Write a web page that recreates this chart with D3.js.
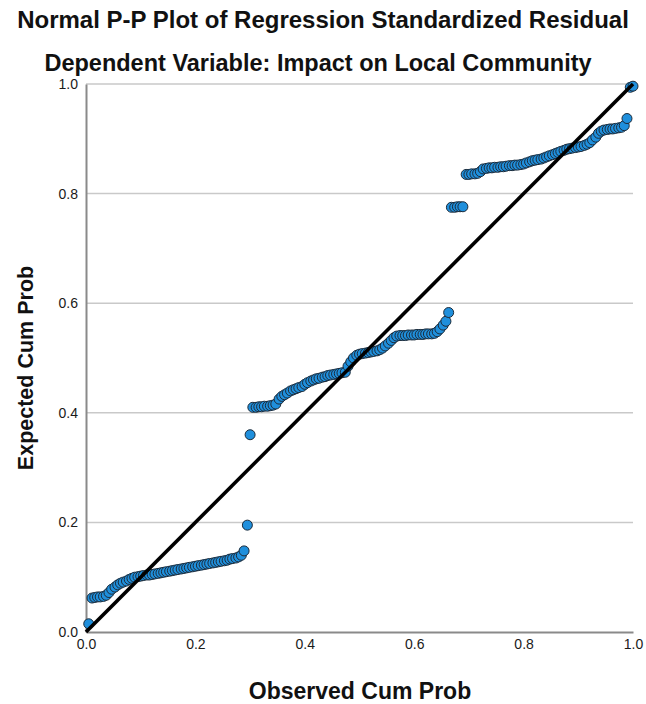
<!DOCTYPE html>
<html>
<head>
<meta charset="utf-8">
<script src="https://cdn.jsdelivr.net/npm/d3@7"></script>
<style>
  html, body { margin: 0; padding: 0; background: #fff; }
  svg text { font-family: "Liberation Sans", Arial, sans-serif; }
</style>
</head>
<body>
<svg id="chart" width="646" height="704"></svg>
<script>
// Normal P-P plot of standardized residuals (n = 190)
const titleLines = ["Normal P-P Plot of Regression Standardized Residual",
                    "Dependent Variable: Impact on Local Community"];
const xLabel = "Observed Cum Prob";
const yLabel = "Expected Cum Prob";
const tickValues = [0, 0.2, 0.4, 0.6, 0.8, 1.0];

// Observed cumulative probability (rank / n)
const observed = [
  0.005,0.011,0.016,0.021,0.026,0.032,0.037,0.042,0.047,0.053,
  0.058,0.063,0.068,0.074,0.079,0.084,0.089,0.095,0.100,0.105,
  0.111,0.116,0.121,0.126,0.132,0.137,0.142,0.147,0.153,0.158,
  0.163,0.168,0.174,0.179,0.184,0.189,0.195,0.200,0.205,0.211,
  0.216,0.221,0.226,0.232,0.237,0.242,0.247,0.253,0.258,0.263,
  0.268,0.274,0.279,0.284,0.289,0.295,0.300,0.305,0.311,0.316,
  0.321,0.326,0.332,0.337,0.342,0.347,0.353,0.358,0.363,0.368,
  0.374,0.379,0.384,0.389,0.395,0.400,0.405,0.411,0.416,0.421,
  0.426,0.432,0.437,0.442,0.447,0.453,0.458,0.463,0.468,0.474,
  0.479,0.484,0.489,0.495,0.500,0.505,0.511,0.516,0.521,0.526,
  0.532,0.537,0.542,0.547,0.553,0.558,0.563,0.568,0.574,0.579,
  0.584,0.589,0.595,0.600,0.605,0.611,0.616,0.621,0.626,0.632,
  0.637,0.642,0.647,0.653,0.658,0.663,0.668,0.674,0.679,0.684,
  0.689,0.695,0.700,0.705,0.711,0.716,0.721,0.726,0.732,0.737,
  0.742,0.747,0.753,0.758,0.763,0.768,0.774,0.779,0.784,0.789,
  0.795,0.800,0.805,0.811,0.816,0.821,0.826,0.832,0.837,0.842,
  0.847,0.853,0.858,0.863,0.868,0.874,0.879,0.884,0.889,0.895,
  0.900,0.905,0.911,0.916,0.921,0.926,0.932,0.937,0.942,0.947,
  0.953,0.958,0.963,0.968,0.974,0.979,0.984,0.989,0.995,1.000
];

// Expected cumulative probability under normality
const expected = [
  0.015,0.062,0.063,0.064,0.064,0.065,0.067,0.072,0.078,0.082,
  0.086,0.089,0.091,0.093,0.096,0.098,0.100,0.101,0.102,0.103,
  0.104,0.104,0.105,0.106,0.107,0.108,0.109,0.110,0.111,0.112,
  0.113,0.114,0.115,0.116,0.117,0.118,0.119,0.120,0.121,0.122,
  0.123,0.124,0.125,0.126,0.127,0.128,0.129,0.130,0.131,0.133,
  0.134,0.135,0.137,0.140,0.148,0.195,0.360,0.410,0.410,0.411,
  0.411,0.412,0.412,0.413,0.414,0.416,0.425,0.430,0.433,0.436,
  0.440,0.442,0.444,0.446,0.448,0.452,0.455,0.458,0.460,0.462,
  0.463,0.465,0.466,0.468,0.469,0.470,0.471,0.472,0.473,0.474,
  0.485,0.493,0.500,0.505,0.507,0.508,0.509,0.510,0.511,0.512,
  0.513,0.515,0.518,0.522,0.527,0.532,0.537,0.540,0.541,0.541,
  0.541,0.542,0.542,0.542,0.543,0.543,0.543,0.544,0.544,0.544,
  0.545,0.548,0.553,0.560,0.567,0.583,0.775,0.775,0.776,0.776,
  0.776,0.835,0.835,0.836,0.836,0.837,0.840,0.845,0.846,0.847,
  0.847,0.848,0.848,0.849,0.849,0.850,0.851,0.851,0.852,0.852,
  0.853,0.854,0.856,0.858,0.860,0.861,0.862,0.863,0.865,0.867,
  0.869,0.871,0.873,0.875,0.877,0.879,0.881,0.882,0.883,0.884,
  0.885,0.886,0.888,0.890,0.893,0.898,0.903,0.910,0.914,0.916,
  0.917,0.918,0.918,0.919,0.920,0.921,0.924,0.937,0.994,0.996
];

const points = observed.map((o, i) => ({ o, e: expected[i] }));

const margin = { left: 86, top: 84, right: 13, bottom: 72 };
const W = 646, H = 704;
const svg = d3.select("#chart");

const x = d3.scaleLinear().domain([0, 1]).range([margin.left, W - margin.right]);
const y = d3.scaleLinear().domain([0, 1]).range([H - margin.bottom, margin.top]);

// horizontal grid lines
svg.append("g")
  .selectAll("line")
  .data(tickValues.filter(d => d > 0))
  .join("line")
  .attr("x1", x(0)).attr("x2", x(1))
  .attr("y1", d => y(d)).attr("y2", d => y(d))
  .attr("stroke", "#c9c9c9")
  .attr("stroke-width", 1.5);

// y axis
const yAxis = svg.append("g")
  .attr("transform", `translate(${x(0)},0)`)
  .call(d3.axisLeft(y).tickValues(tickValues).tickFormat(d3.format(".1f")).tickSize(0).tickPadding(8));
yAxis.select(".domain").attr("stroke", "#8a8a8a").attr("stroke-width", 2);
yAxis.selectAll("text").attr("font-size", 14).attr("fill", "#1a1a1a");

// x axis
const xAxis = svg.append("g")
  .attr("transform", `translate(0,${y(0)})`)
  .call(d3.axisBottom(x).tickValues(tickValues).tickFormat(d3.format(".1f")).tickSize(0).tickPadding(7));
xAxis.select(".domain").attr("stroke", "#8a8a8a").attr("stroke-width", 2);
xAxis.selectAll("text").attr("font-size", 14).attr("fill", "#1a1a1a");

// points
svg.append("g")
  .selectAll("circle")
  .data(points)
  .join("circle")
  .attr("cx", d => x(d.o))
  .attr("cy", d => y(d.e))
  .attr("r", 5)
  .attr("fill", "#1f8fdc")
  .attr("stroke", "#1c2b3a")
  .attr("stroke-width", 1);

// reference diagonal
svg.append("line")
  .attr("x1", x(0)).attr("y1", y(0))
  .attr("x2", x(1)).attr("y2", y(1))
  .attr("stroke", "#000")
  .attr("stroke-width", 3.6);

// titles
svg.append("text")
  .attr("x", 323).attr("y", 28)
  .attr("text-anchor", "middle")
  .attr("font-size", 24).attr("font-weight", "bold").attr("fill", "#111")
  .text(titleLines[0]);
svg.append("text")
  .attr("x", 318).attr("y", 71)
  .attr("text-anchor", "middle")
  .attr("font-size", 23.5).attr("font-weight", "bold").attr("fill", "#111")
  .text(titleLines[1]);

// axis titles
svg.append("text")
  .attr("x", 360).attr("y", 699)
  .attr("text-anchor", "middle")
  .attr("font-size", 23).attr("font-weight", "bold").attr("fill", "#111")
  .text(xLabel);
svg.append("text")
  .attr("transform", "translate(33,368) rotate(-90)")
  .attr("text-anchor", "middle")
  .attr("font-size", 21.5).attr("font-weight", "bold").attr("fill", "#111")
  .text(yLabel);
</script>
</body>
</html>
